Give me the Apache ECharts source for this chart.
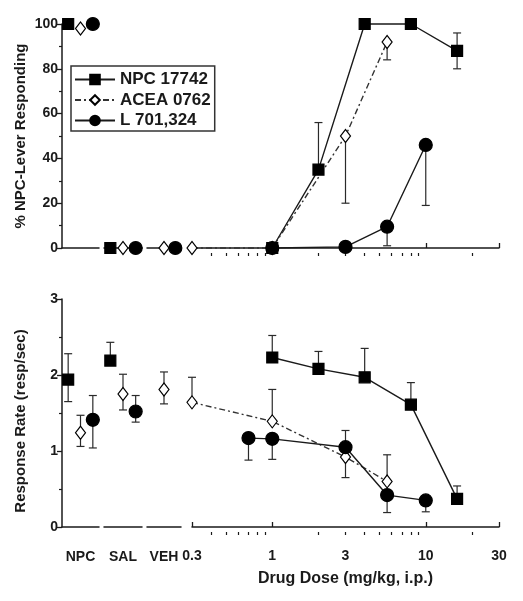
<!DOCTYPE html>
<html><head><meta charset="utf-8">
<script src="https://cdn.jsdelivr.net/npm/echarts@6/dist/echarts.min.js"></script>
<style>html,body{margin:0;padding:0;background:#fff}#c{width:523px;height:601px}</style>
</head><body><div id="c"></div>
<script>
// ---------- data ----------
const compounds = ['NPC 17742', 'ACEA 0762', 'L 701,324'];
const controlGroups = ['NPC', 'SAL', 'VEH'];
const doseLabels = [0.3, 1, 3, 10, 30];
const doseMajorTicks = [0.3, 1, 10, 30];
const doseMinorTicks = [0.4, 0.5, 0.6, 0.7, 0.8, 0.9, 2, 3, 4, 5, 6, 7, 8, 9, 20];
const pctTicks = [0, 20, 40, 60, 80, 100];
const rateTicks = [0, 1, 2, 3];

// top panel: % NPC-lever responding; controls in order NPC, SAL, VEH
const pctCtrlNPC17742 = [100, 0, null];
const pctCtrlACEA = [98, 0, 0];
const pctCtrlL = [100, 0, 0];
const pctDoseNPC17742 = [1, 2, 4, 8, 16];
const pctValNPC17742 = [0, 35, 100, 100, 88];
const pctDoseACEA = [0.3, 1, 3, 5.6];
const pctValACEA = [0, 0, 50, 92];
const pctDoseL = [1, 3, 5.6, 10];
const pctValL = [0, 0.5, 9.5, 46];
// error bar ends: [dose, end]
const pctErrNPC17742 = [[2, 56], [16, 96], [16, 80]];
const pctErrACEA = [[3, 20], [5.6, 84]];
const pctErrL = [[5.6, 1], [10, 19]];

// bottom panel: response rate (resp/sec)
const rateCtrlNPC17742 = [1.94, 2.19, null];
const rateCtrlACEA = [1.24, 1.75, 1.81];
const rateCtrlL = [1.41, 1.52, null];
// control error ends: [group index, end]
const rateCtrlErrNPC17742 = [[0, 2.28], [0, 1.65], [1, 2.43]];
const rateCtrlErrACEA = [[0, 1.47], [0, 1.06], [1, 2.01], [1, 1.54], [2, 2.04], [2, 1.62]];
const rateCtrlErrL = [[0, 1.73], [0, 1.04], [1, 1.73], [1, 1.38]];
const rateDoseNPC17742 = [1, 2, 4, 8, 16];
const rateValNPC17742 = [2.23, 2.08, 1.97, 1.61, 0.37];
const rateErrNPC17742 = [[1, 2.52], [2, 2.31], [4, 2.35], [8, 1.90], [16, 0.54]];
const rateDoseACEA = [0.3, 1, 3, 5.6];
const rateValACEA = [1.64, 1.39, 0.92, 0.60];
const rateErrACEA = [[0.3, 1.97], [1, 1.81], [3, 0.65], [5.6, 0.95]];
const rateDoseL = [0.7, 1, 3, 5.6, 10];
const rateValL = [1.17, 1.16, 1.05, 0.42, 0.35];
const rateErrL = [[0.7, 0.88], [1, 0.89], [3, 1.27], [5.6, 0.19], [10, 0.20]];

// ---------- styles / layout ----------
const FONT = '"Liberation Sans", Arial, Helvetica, sans-serif';
const INK = '#1a1a1a';
const symStyles = [
  {symbol: 'rect', size: 11, fill: '#000'},
  {symbol: 'diamond', size: [10, 13], fill: '#fff'},
  {symbol: 'circle', size: 13, fill: '#000'}
];
const lineTypes = ['solid', [6, 3, 2, 3], 'solid'];
const lineColors = ['#1a1a1a', '#333', '#1a1a1a'];
const panelsLayout = [{top: 24, height: 224}, {top: 299, height: 228}];
const ctrlLayout = [{left: 62, width: 37}, {left: 104, width: 38}, {left: 147, width: 34}];
const doseLayout = {left: 192, width: 307};

const panels = [
  {
    yMin: 0, yMax: 100, yInterval: 20, yName: '% NPC-Lever Responding', yNamePad: [0, 0, 0, 0],
    ctrl: [pctCtrlNPC17742, pctCtrlACEA, pctCtrlL],
    ctrlErr: [[], [], []],
    dose: [pctDoseNPC17742, pctDoseACEA, pctDoseL],
    val: [pctValNPC17742, pctValACEA, pctValL],
    err: [pctErrNPC17742, pctErrACEA, pctErrL],
    showX: false
  },
  {
    yMin: 0, yMax: 3, yInterval: 1, yName: 'Response Rate (resp/sec)', yNamePad: [0, 16, 0, 0],
    ctrl: [rateCtrlNPC17742, rateCtrlACEA, rateCtrlL],
    ctrlErr: [rateCtrlErrNPC17742, rateCtrlErrACEA, rateCtrlErrL],
    dose: [rateDoseNPC17742, rateDoseACEA, rateDoseL],
    val: [rateValNPC17742, rateValACEA, rateValL],
    err: [rateErrNPC17742, rateErrACEA, rateErrL],
    showX: true
  }
];

function renderErr(params, api) {
  const x = api.value(0), y = api.value(1), e = api.value(2);
  const p0 = api.coord([x, y]), p1 = api.coord([x, e]);
  const w = 4;
  const st = {stroke: '#2a2a2a', lineWidth: 1.2};
  return {type: 'group', children: [
    {type: 'line', shape: {x1: p0[0], y1: p0[1], x2: p1[0], y2: p1[1]}, style: st},
    {type: 'line', shape: {x1: p1[0] - w, y1: p1[1], x2: p1[0] + w, y2: p1[1]}, style: st}
  ]};
}

const grid = [], xAxis = [], yAxis = [];
const axisLineStyle = {color: INK, width: 1.5};
const lineSeries = [], otherSeries = [];

panels.forEach((p, pi) => {
  const L = panelsLayout[pi];
  const yBase = {
    type: 'value', min: p.yMin, max: p.yMax, interval: p.yInterval,
    splitLine: {show: false}
  };
  ctrlLayout.forEach((g, gi) => {
    const gIdx = grid.length;
    grid.push({left: g.left, width: g.width, top: L.top, height: L.height});
    const xIdx = xAxis.length;
    xAxis.push({
      gridIndex: gIdx, type: 'category', data: compounds, boundaryGap: true, offset: 8, position: 'bottom',
      axisLine: {lineStyle: axisLineStyle}, axisTick: {show: false}, axisLabel: {show: false},
      splitLine: {show: false},
      name: p.showX ? controlGroups[gi] : '', nameLocation: 'middle', nameGap: 15,
      nameTextStyle: {fontFamily: FONT, fontWeight: 'bold', fontSize: 14, color: INK}
    });
    const yIdx = yAxis.length;
    const ya = Object.assign({gridIndex: gIdx}, yBase);
    if (gi === 0) {
      Object.assign(ya, {
        axisLine: {show: true, lineStyle: axisLineStyle},
        axisTick: {show: true, length: 5, lineStyle: {color: INK, width: 1.3}},
        minorTick: {show: true, splitNumber: 2, length: 3, lineStyle: {color: INK, width: 1.2}},
        axisLabel: {fontFamily: FONT, fontWeight: 'bold', fontSize: 14, color: INK, margin: 4},
        name: p.yName, nameLocation: 'middle', nameGap: 34,
        nameTextStyle: {fontFamily: FONT, fontWeight: 'bold', fontSize: 15, color: INK, padding: p.yNamePad}
      });
    } else {
      ya.show = false;
    }
    yAxis.push(ya);
    compounds.forEach((c, ci) => {
      const v = p.ctrl[ci][gi];
      const errs = p.ctrlErr[ci].filter(e => e[0] === gi).map(e => [ci, v, e[1]]);
      if (errs.length) {
        otherSeries.push({
          type: 'custom', name: c + ' err', xAxisIndex: xIdx, yAxisIndex: yIdx, z: 1,
          renderItem: renderErr, data: errs, encode: {x: 0, y: [1, 2]}, clip: false
        });
      }
      if (v !== null) {
        otherSeries.push({
          type: 'scatter', name: c + ' ctrl', xAxisIndex: xIdx, yAxisIndex: yIdx, z: 3,
          symbol: symStyles[ci].symbol, symbolSize: symStyles[ci].size,
          itemStyle: {color: symStyles[ci].fill, borderColor: '#000', borderWidth: 1.2, opacity: 1},
          data: [[ci, v]], clip: false
        });
      }
    });
  });
  // dose grid
  const dIdx = grid.length;
  grid.push({left: doseLayout.left, width: doseLayout.width, top: L.top, height: L.height});
  const mainX = xAxis.length;
  xAxis.push({
    gridIndex: dIdx, type: 'log', logBase: 10, min: 0.3, max: 30, offset: 8, position: 'bottom',
    axisLine: {lineStyle: axisLineStyle}, splitLine: {show: false},
    axisTick: {show: true, inside: true, length: 5, customValues: doseMajorTicks, lineStyle: {color: INK, width: 1.3}},
    axisLabel: {show: p.showX, customValues: doseLabels, fontFamily: FONT, fontWeight: 'bold', fontSize: 14, color: INK, margin: 14,
      formatter: v => String(+(+v).toPrecision(2))},
    name: p.showX ? 'Drug Dose (mg/kg, i.p.)' : '', nameLocation: 'middle', nameGap: 36,
    nameTextStyle: {fontFamily: FONT, fontWeight: 'bold', fontSize: 16, color: INK}
  });
  xAxis.push({
    gridIndex: dIdx, type: 'log', logBase: 10, min: 0.3, max: 30, offset: 8, position: 'bottom',
    axisLine: {show: false}, splitLine: {show: false}, axisLabel: {show: false},
    axisTick: {show: true, inside: true, length: 3, customValues: doseMinorTicks, lineStyle: {color: INK, width: 1.2}}
  });
  const yIdx = yAxis.length;
  yAxis.push(Object.assign({gridIndex: dIdx, show: false}, yBase));
  compounds.forEach((c, ci) => {
    const dose = p.dose[ci], val = p.val[ci];
    lineSeries.push({
      type: 'line', name: c, xAxisIndex: mainX, yAxisIndex: yIdx, z: 3,
      symbol: symStyles[ci].symbol, symbolSize: symStyles[ci].size, showSymbol: true,
      itemStyle: {color: symStyles[ci].fill, borderColor: '#000', borderWidth: 1.2},
      lineStyle: {color: lineColors[ci], width: 1.4, type: lineTypes[ci]},
      data: dose.map((d, i) => [d, val[i]]), clip: false
    });
    const errs = p.err[ci].map(e => [e[0], val[dose.indexOf(e[0])], e[1]]);
    otherSeries.push({
      type: 'custom', name: c + ' err', xAxisIndex: mainX, yAxisIndex: yIdx, z: 1,
      renderItem: renderErr, data: errs, encode: {x: 0, y: [1, 2]}, clip: false
    });
  });
});

const chart = echarts.init(document.getElementById('c'), null, {renderer: 'canvas'});
chart.setOption({
  animation: false,
  backgroundColor: '#fff',
  grid, xAxis, yAxis,
  legend: {
    data: compounds, orient: 'vertical', left: 71, top: 66, selectedMode: false,
    borderColor: '#333', borderWidth: 1.5, padding: [5, 4, 2, 3],
    itemWidth: 40, itemHeight: 12, itemGap: 3.5,
    textStyle: {fontFamily: FONT, fontWeight: 'bold', fontSize: 17, color: INK}
  },
  series: lineSeries.concat(otherSeries)
});
</script></body></html>
